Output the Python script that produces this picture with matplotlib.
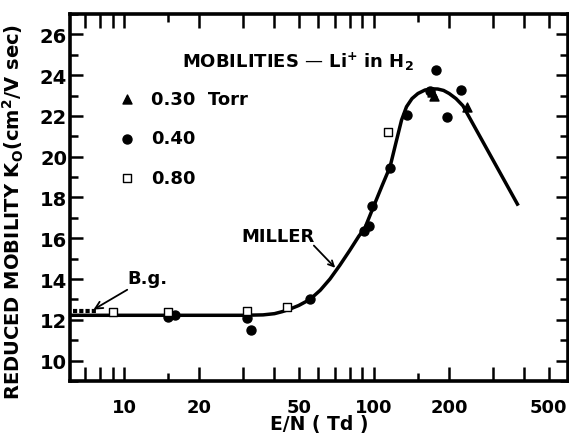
import matplotlib
matplotlib.use("Agg")
import matplotlib.pyplot as plt
from matplotlib.ticker import FixedLocator, NullFormatter

# ---- data ----
torr030_x = [170, 174, 235]
torr030_y = [23.15, 23.0, 22.45]

torr040_x = [15.0, 16.0, 31.2, 32.1, 55.5, 91.4, 95.5, 97.9, 115.8, 135.9, 168, 177, 195.4, 224]
torr040_y = [12.14, 12.25, 12.09, 11.52, 13.0, 16.34, 16.6, 17.56, 19.46, 22.07, 23.2, 24.23, 21.95, 23.28]

torr080_x = [9.06, 15.0, 31.2, 44.8, 114]
torr080_y = [12.39, 12.39, 12.44, 12.63, 21.21]

bg_x = [6.25, 7.9]
bg_y = [12.45, 12.45]

miller_x = [6.1, 10, 20, 30, 36, 40, 43, 46, 50, 55.5, 61, 66.7, 73, 80, 87, 92, 100, 108,
            116, 122, 129, 135, 142, 150, 160, 170, 180, 190, 200, 213, 227, 378]
miller_y = [12.22, 12.22, 12.22, 12.22, 12.24, 12.3, 12.4, 12.52, 12.7, 13.0, 13.45, 14.0, 14.67,
            15.4, 16.1, 16.5, 17.6, 18.6, 19.5, 20.6, 21.8, 22.45, 22.85, 23.1, 23.27, 23.33,
            23.32, 23.25, 23.1, 22.85, 22.5, 17.6]

xticks_major = [10, 20, 50, 100, 200, 500]
xticks_minor = [7, 8, 9, 30, 40, 60, 70, 80, 90, 300, 400]
xticks_short = [15, 150]
yticks_major = [10, 12, 14, 16, 18, 20, 22, 24, 26]
yticks_minor = [9, 11, 13, 15, 17, 19, 21, 23, 25, 27]

plt.rcParams['font.family'] = ['DejaVu Sans']
plt.rcParams['font.weight'] = 'bold'

fig = plt.figure(figsize=(5.69, 4.35), dpi=100)
ax = fig.add_axes([0.123, 0.122, 0.875, 0.8435])
ax.set_xscale('log')
ax.set_xlim(6.08, 597)
ax.set_ylim(9, 27)

for s in ax.spines.values():
    s.set_linewidth(2.6)

ax.xaxis.set_major_locator(FixedLocator(xticks_major + xticks_minor))
ax.xaxis.set_minor_locator(FixedLocator(xticks_short))
ax.set_xticklabels([str(v) if v in xticks_major else '' for v in xticks_major + xticks_minor])
ax.xaxis.set_minor_formatter(NullFormatter())
ax.yaxis.set_major_locator(FixedLocator(yticks_major))
ax.yaxis.set_minor_locator(FixedLocator(yticks_minor))
ax.tick_params(axis='x', which='major', direction='in', length=10, width=1.8,
               top=True, bottom=True, labelsize=13, pad=12)
ax.tick_params(axis='x', which='minor', direction='in', length=6, width=1.8,
               top=True, bottom=True)
ax.tick_params(axis='y', which='major', direction='in', length=9, width=1.8,
               left=True, right=True, labelsize=14, pad=2)
ax.tick_params(axis='y', which='minor', direction='in', length=6, width=1.8,
               left=True, right=True)
for lab in ax.get_xticklabels() + ax.get_yticklabels():
    lab.set_fontweight('bold')

ax.plot(miller_x, miller_y, color='black', lw=2.5, solid_capstyle='butt',
        solid_joinstyle='round', zorder=2)
ax.plot(bg_x, bg_y, color='black', lw=3.0, ls=(0, (1.0, 0.5)), zorder=2)

h1 = ax.scatter(torr030_x, torr030_y, marker='^', s=42, color='black', zorder=3)
h2 = ax.scatter(torr040_x, torr040_y, marker='o', s=42, color='black', zorder=3)
h3 = ax.scatter(torr080_x, torr080_y, marker='s', s=30, facecolor='white',
                edgecolor='black', linewidths=1.0, zorder=3)

ax.legend([h1, h2, h3], ['0.30  Torr', '0.40', '0.80'], loc='upper left',
          bbox_to_anchor=(0.046, 0.838), frameon=False,
          labelspacing=1.2, handletextpad=0.3, scatterpoints=1,
          prop={'weight': 'bold', 'size': 13})

ax.text(0.225, 0.872, 'MOBILITIES — Li$^{+}$ in H$_2$', transform=ax.transAxes,
        fontsize=13, fontweight='bold', va='center', ha='left')

ax.annotate('B.g.', xy=(7.55, 12.5), xytext=(10.3, 14.05), fontsize=13,
            fontweight='bold', va='center', ha='left',
            arrowprops=dict(arrowstyle='->', color='black', lw=1.3,
                            shrinkA=0, shrinkB=0))
ax.text(29.4, 16.13, 'MILLER', fontsize=13, fontweight='bold', va='center', ha='left')
ax.annotate('', xy=(70, 14.55), xytext=(57.5, 15.64),
            arrowprops=dict(arrowstyle='->', color='black', lw=1.3,
                            shrinkA=0, shrinkB=0))

ax.set_xlabel('E/N ( Td )', fontsize=13.5, fontweight='bold', labelpad=-1)
ax.set_ylabel('REDUCED MOBILITY K$_\\mathregular{O}$(cm$^\\mathregular{2}$/V sec)',
              fontsize=14, fontweight='bold')
ax.yaxis.set_label_coords(-0.088, 0.463)

fig.savefig('out.png', dpi=100)
